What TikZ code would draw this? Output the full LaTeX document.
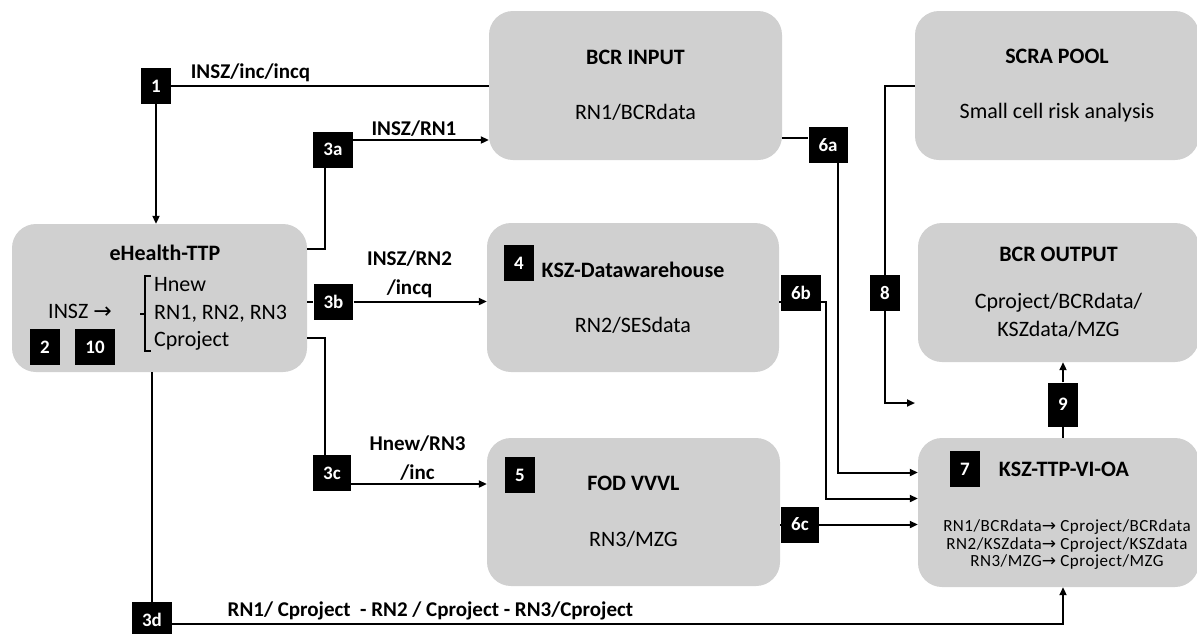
\documentclass[tikz,border=0pt]{standalone}
\usepackage{fontspec}
\setmainfont{Carlito}
\newfontfamily\arrowfont{DejaVu Sans}
\usetikzlibrary{positioning,calc,arrows.meta}
\definecolor{boxgray}{RGB}{208,208,208}

\begin{document}
\begin{tikzpicture}[x=1pt, y=-1pt,
		box/.style={fill=boxgray, rounded corners=24pt, inner sep=0pt, align=center, font=\fontsize{22}{27}\selectfont},
		badge/.style={fill=black, text=white, font=\fontsize{19}{19}\selectfont\bfseries, minimum width=28pt, minimum height=36pt, inner xsep=10pt, inner ysep=0pt},
		lbl/.style={font=\fontsize{21}{29}\selectfont\bfseries, align=center, inner sep=3pt},
		flow/.style={line width=2pt},
		arr/.style={flow, -{Triangle[length=8pt,width=7pt]}}]
	\useasboundingbox (0,0) rectangle (1197,633);

	\node[box, minimum width=295pt, minimum height=148pt] (ehealth) at (159.5,298) {};
	\node[box, minimum width=293pt, minimum height=149pt] (bcrin) at (635.5,85.5) {\textbf{BCR INPUT}\\[28pt]RN1/BCRdata};
	\node[box, minimum width=292pt, minimum height=149pt] (kszdw) at (633,297.5) {\textbf{KSZ-Datawarehouse}\\[28pt]RN2/SESdata};
	\node[box, minimum width=293pt, minimum height=148pt] (fod) at (633.5,512) {\textbf{FOD VVVL}\\[29pt]RN3/MZG};
	\node[box, minimum width=284pt, minimum height=149pt] (scra) at (1057,85.5) {\textbf{SCRA POOL}\\[28pt]Small cell risk analysis};
	\node[box, minimum width=281pt, minimum height=139pt, font=\fontsize{22}{28}\selectfont] (bcrout) at (1058.5,292.5) {\textbf{BCR OUTPUT}\\[19pt]Cproject/BCRdata/\\KSZdata/MZG};
	\node[box, minimum width=281pt, minimum height=149pt] (kszttp) at (1058.5,512.5) {};

	\node[font=\fontsize{22}{27}\selectfont\bfseries] (ehealthh) at (165,253) {eHealth-TTP};
	\node[font=\fontsize{22}{27}\selectfont] (insz) at (80,311) {INSZ {\arrowfont →}};
	\node[anchor=west, align=left, inner sep=0pt, font=\fontsize{22}{27.5}\selectfont] (ids) at (154,314) {Hnew\\RN1, RN2, RN3\\Cproject};
	\draw[line width=1.4pt] (151,276) -- (145,276) -- (145,351) -- (151,351) (145,314) -- (140,314);
	\node[font=\fontsize{22}{27}\selectfont\bfseries] (kszttph) at (1064,469) {KSZ-TTP-VI-OA};
	\node[align=center, font=\fontsize{17}{17.5}\selectfont\addfontfeature{LetterSpace=3}] (kszttpl) at (1067,545) {RN1/BCRdata{\arrowfont →} Cproject/BCRdata\\RN2/KSZdata{\arrowfont →} Cproject/KSZdata\\RN3/MZG{\arrowfont →} Cproject/MZG};

	\node[badge] (b1) at (156,86) {1};
	\node[badge] (b2) at (45,347) {2};
	\node[badge] (b10) at (95,347) {10};
	\node[badge] (b3a) at (333,149.5) {3a};
	\node[badge] (b3b) at (333.5,301.5) {3b};
	\node[badge] (b3c) at (332,473) {3c};
	\node[badge] (b3d) at (152,620) {3d};
	\node[badge] (b4) at (519,263) {4};
	\node[badge] (b5) at (520,475) {5};
	\node[badge] (b6a) at (828,145) {6a};
	\node[badge] (b6b) at (801,293) {6b};
	\node[badge] (b6c) at (800,524.5) {6c};
	\node[badge] (b7) at (965,469) {7};
	\node[badge] (b8) at (885,293) {8};
	\node[badge, minimum height=44pt] (b9) at (1063,404.5) {9};

	\draw[flow] (bcrin.west) -- node[lbl, above, pos=0.75] (l1) {INSZ/inc/incq} (bcrin.west -| b1.east);
	\draw[arr] (b1.south) -- (b1 |- ehealth.north);

	\draw[flow] ([yshift=49pt]ehealth.east) -| ([xshift=-8pt]b3a.south);
	\coordinate (o3a) at ([yshift=9.5pt]b3a.east);
	\draw[arr] (o3a) -- node[lbl, above, pos=0.45] (l3a) {INSZ/RN1} (o3a -| bcrin.west);

	\draw[flow] (b3b.west -| ehealth.east) -- (b3b.west);
	\draw[arr] (b3b.east) -- node[lbl, above, pos=0.42] (l3b) {INSZ/RN2\\/incq} (b3b.east -| kszdw.west);

	\draw[flow] ([yshift=-40pt]ehealth.east) -| ([xshift=-7pt]b3c.north);
	\coordinate (o3c) at ([yshift=-11pt]b3c.east);
	\draw[arr] (o3c) -- node[lbl, above, pos=0.49] (l3c) {Hnew/RN3\\/inc} (o3c -| fod.west);

	\draw[flow] (b3d.north |- ehealth.south) -- (b3d.north);
	\coordinate (o3d) at ([yshift=-4pt]b3d.east);
	\draw[arr] (o3d) -- node[lbl, above, pos=0.29] (l3d) {RN1/ Cproject\ \ - RN2 / Cproject - RN3/Cproject} (o3d -| b9) -- (b9 |- kszttp.south);

	\coordinate (o6a) at ([yshift=-52pt]bcrin.east);
	\draw[flow] (o6a) -- (o6a -| b6a.west);
	\draw[arr] ([xshift=10pt]b6a.south) |- ([yshift=40pt]kszttp.west);

	\coordinate (o6b) at ([yshift=-9pt]b6b.east);
	\draw[flow] (o6b -| kszdw.east) -- (o6b -| b6b.west);
	\draw[arr] (o6b) -- ++(5,0) |- ([yshift=14pt]kszttp.west);

	\draw[flow] (b6c.west -| fod.east) -- (b6c.west);
	\draw[arr] (b6c.east) -- (b6c.east -| kszttp.west);

	\coordinate (e8) at (915,403);
	\draw[flow] (scra.west) -| (b8.north);
	\draw[arr] (b8.south) |- (e8);

	\draw[flow] (b9.south |- kszttp.north) -- (b9.south);
	\draw[arr] (b9.north) -- (b9.north |- bcrout.south);
\end{tikzpicture}
\end{document}
